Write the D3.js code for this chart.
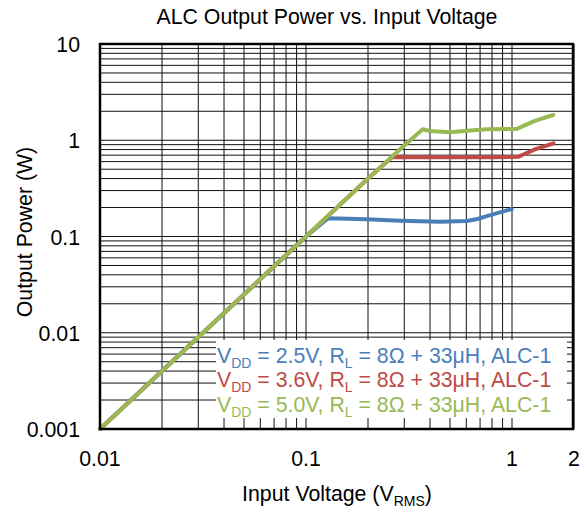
<!DOCTYPE html>
<html><head><meta charset="utf-8">
<script src="https://cdn.jsdelivr.net/npm/d3@7"></script>
<style>body{margin:0;background:#fff}svg{display:block}text{font-family:Arial,"Liberation Sans",sans-serif}</style>
</head><body>
<svg id="c" width="587" height="513"></svg>
<script>
// Data
const seriesNames = ["VDD = 2.5V", "VDD = 3.6V", "VDD = 5.0V"];
const vddLabels = ["2.5V", "3.6V", "5.0V"];
const seriesColors = ["#4A7EBB", "#BE4B48", "#98B954"];
const blueX = [0.01, 0.02, 0.05, 0.1, 0.128, 0.197, 0.286, 0.447, 0.603, 0.68, 0.754, 0.997];
const blueY = [0.001, 0.004, 0.025, 0.1, 0.155, 0.151, 0.146, 0.1425, 0.145, 0.152, 0.163, 0.193];
const redX = [0.01, 0.02, 0.05, 0.1, 0.2, 0.262, 0.4, 0.6, 0.8, 1.07, 1.15, 1.3, 1.59];
const redY = [0.001, 0.004, 0.025, 0.1, 0.4, 0.67, 0.667, 0.667, 0.667, 0.672, 0.72, 0.81, 0.93];
const greenX = [0.01, 0.02, 0.05, 0.1, 0.2, 0.3, 0.3686, 0.4, 0.5, 0.625, 0.754, 1.054, 1.13, 1.3, 1.587];
const greenY = [0.001, 0.004, 0.025, 0.1, 0.4, 0.88, 1.3, 1.248, 1.209, 1.263, 1.3, 1.309, 1.4, 1.6, 1.83];
const xTickLabels = ["0.01", "0.1", "1", "2"];
const xTickValues = [0.01, 0.1, 1, 2];
const yTickLabels = ["0.001", "0.01", "0.1", "1", "10"];
const yTickValues = [0.001, 0.01, 0.1, 1, 10];

const FS = 21.3, SUB = 14;
const svg = d3.select("#c");
const L = 100, R = 573, T = 44, B = 429;
const x = d3.scaleLog().domain([0.01, 2]).range([L, L + 206 * Math.log10(200)]);
const y = d3.scaleLog().domain([0.001, 10]).range([B, T]);

// grid
const xGrid = [];
[0.01, 0.1, 1].forEach(d => { for (let k = 1; k <= 9; k++) { const v = d * k; if (v <= 2.0001) xGrid.push(v); } });
const yGrid = [];
[0.001, 0.01, 0.1, 1].forEach(d => { for (let k = 1; k <= 9; k++) yGrid.push(d * k); });
yGrid.push(10);

const g = svg.append("g");
g.selectAll(".vg").data(xGrid).join("line")
  .attr("x1", d => x(d)).attr("x2", d => x(d)).attr("y1", T).attr("y2", B)
  .attr("stroke", "#111").attr("stroke-width", 1);
g.selectAll(".hg").data(yGrid).join("line")
  .attr("y1", d => y(d)).attr("y2", d => y(d)).attr("x1", L).attr("x2", R)
  .attr("stroke", "#111").attr("stroke-width", 1);

// legend background
svg.append("rect").attr("x", 216).attr("y", 340).attr("width", 351).attr("height", 78).attr("fill", "#fff");

// series
const line = d3.line().x(d => x(d[0])).y(d => y(d[1])).curve(d3.curveLinear);
const all = [[blueX, blueY], [redX, redY], [greenX, greenY]];
all.forEach((s, i) => {
  const pts = s[0].map((v, j) => [v, s[1][j]]);
  svg.append("path").attr("d", line(pts)).attr("fill", "none")
    .attr("stroke", seriesColors[i]).attr("stroke-width", 4)
    .attr("stroke-linejoin", "round").attr("stroke-linecap", "round");
});

// frame
svg.append("rect").attr("x", L).attr("y", T).attr("width", R - L).attr("height", B - T)
  .attr("fill", "none").attr("stroke", "#000").attr("stroke-width", 2.5);

// tick labels
svg.selectAll(".xl").data(xTickValues).join("text")
  .attr("x", d => x(d)).attr("y", 466).attr("text-anchor", "middle")
  .attr("font-size", FS).attr("fill", "#000").text((d, i) => xTickLabels[i]);
svg.selectAll(".yl").data(yTickValues).join("text")
  .attr("x", 80).attr("y", d => y(d) + 8).attr("text-anchor", "end")
  .attr("font-size", FS).attr("fill", "#000").text((d, i) => yTickLabels[i]);

// title
svg.append("text").attr("x", 327).attr("y", 24).attr("text-anchor", "middle")
  .attr("font-size", FS).text("ALC Output Power vs. Input Voltage");

// axis titles
const xt = svg.append("text").attr("x", 337).attr("y", 501).attr("text-anchor", "middle").attr("font-size", FS);
xt.append("tspan").text("Input Voltage (V");
xt.append("tspan").attr("font-size", SUB).attr("dy", 5).text("RMS");
xt.append("tspan").attr("dy", -5).text(")");
svg.append("text").attr("transform", "translate(32,232) rotate(-90)").attr("text-anchor", "middle")
  .attr("font-size", FS).text("Output Power (W)");

// legend text
const baselines = [362.5, 387.3, 411.7];
vddLabels.forEach((v, i) => {
  const t = svg.append("text").attr("x", 217).attr("y", baselines[i]).attr("font-size", FS).attr("fill", seriesColors[i]);
  t.append("tspan").text("V");
  t.append("tspan").attr("font-size", SUB).attr("dy", 5).text("DD");
  t.append("tspan").attr("dy", -5).text(" = " + v + ", R");
  t.append("tspan").attr("font-size", SUB).attr("dy", 5).text("L");
  t.append("tspan").attr("dy", -5).text(" = 8Ω + 33μH, ALC-1");
});
</script>
</body></html>
